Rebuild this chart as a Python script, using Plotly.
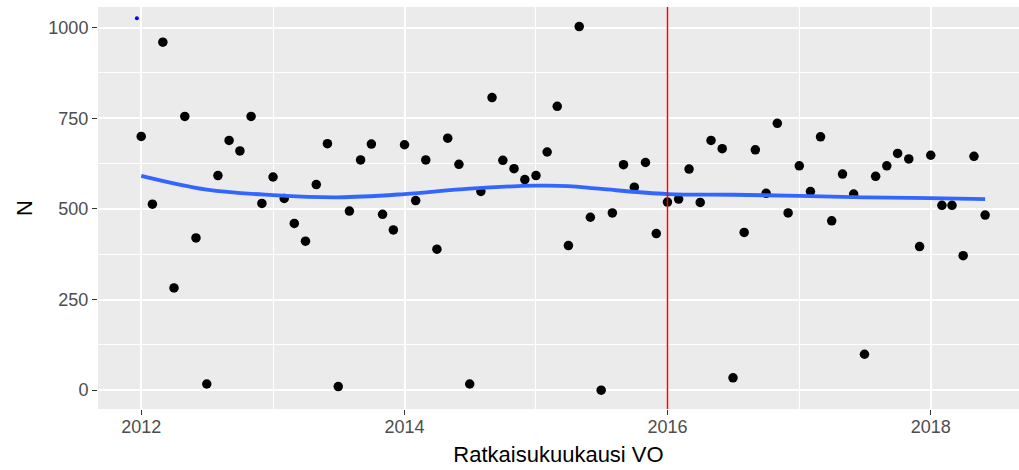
import plotly.graph_objects as go
import pandas as pd

# monthly counts, Jan 2012 .. Jun 2018
months = pd.date_range("2012-01-01", "2018-06-01", freq="MS")
n_values = [700, 513, 960, 282, 755, 420, 17, 592, 689, 660, 755, 515,
            588, 529, 460, 411, 567, 680, 10, 494, 635, 679, 485, 442,
            677, 523, 635, 389, 695, 623, 17, 548, 807, 634, 611, 581,
            592, 657, 783, 399, 1003, 477, 0, 489, 622, 560, 628, 432,
            519, 527, 610, 518, 689, 666, 34, 435, 663, 543, 736, 489,
            619, 548, 699, 467, 596, 541, 99, 590, 619, 653, 638, 396,
            648, 510, 510, 371, 645, 483]

# loess smooth
smooth_dates = ["2012-01-01", "2012-07-01", "2013-01-01", "2013-07-01",
                "2014-01-01", "2014-07-01", "2015-01-01", "2015-04-01",
                "2015-07-01", "2016-01-01", "2016-07-01", "2017-01-01",
                "2017-07-01", "2018-01-01", "2018-06-01"]
smooth_values = [591, 553, 538, 532, 541, 556, 564, 563,
                 555, 541, 539, 536, 532, 530, 527]

# small stray blue point top-left
extra_date = ["2011-12-20"]
extra_value = [1026]

cutoff_date = "2016-01-01"

FONT = "Liberation Sans, Arial, sans-serif"

fig = go.Figure()

fig.add_trace(go.Scatter(
    x=months, y=n_values, mode="markers",
    marker=dict(color="black", size=9.5),
    showlegend=False
))

fig.add_trace(go.Scatter(
    x=smooth_dates, y=smooth_values, mode="lines",
    line=dict(color="#3366FF", width=3.8, shape="spline"),
    showlegend=False
))

fig.add_trace(go.Scatter(
    x=extra_date, y=extra_value, mode="markers",
    marker=dict(color="#0000FF", size=4),
    showlegend=False
))

fig.add_vline(x=cutoff_date, line=dict(color="#FF0000", width=1.5))

fig.update_layout(
    width=1019, height=470,
    margin=dict(l=98, r=0, t=7, b=61),
    paper_bgcolor="white",
    plot_bgcolor="#EBEBEB",
    font=dict(family=FONT, color="#4D4D4D"),
    xaxis=dict(
        type="date",
        range=["2011-09-03", "2018-09-03"],
        tick0="2012-01-01", dtick="M24", tickformat="%Y",
        showgrid=True, gridcolor="white", gridwidth=1.5,
        minor=dict(dtick="M12", showgrid=True, gridcolor="white", gridwidth=0.7),
        ticks="outside", ticklen=5, tickcolor="#333333", tickwidth=1,
        tickfont=dict(size=18, color="#4D4D4D"), ticklabelstandoff=-4,
        zeroline=False, showline=False, automargin=False,
        title=dict(text="Ratkaisukuukausi VO", font=dict(size=22, color="black"), standoff=11),
    ),
    yaxis=dict(
        range=[-52, 1057],
        tickvals=[0, 250, 500, 750, 1000],
        showgrid=True, gridcolor="white", gridwidth=1.5,
        minor=dict(tickvals=[125, 375, 625, 875], showgrid=True, gridcolor="white", gridwidth=0.7),
        ticks="outside", ticklen=5, tickcolor="#333333", tickwidth=1,
        tickfont=dict(size=18, color="#4D4D4D"),
        zeroline=False, showline=False, automargin=False,
        title=dict(text="N", font=dict(size=22, color="black"), standoff=9),
    ),
)

# drop the page's default body margin so the figure fills the window
fig.write_html("out.html",
               config={"displayModeBar": False},
               post_script="document.body.style.margin='0';document.body.style.overflow='hidden';")
